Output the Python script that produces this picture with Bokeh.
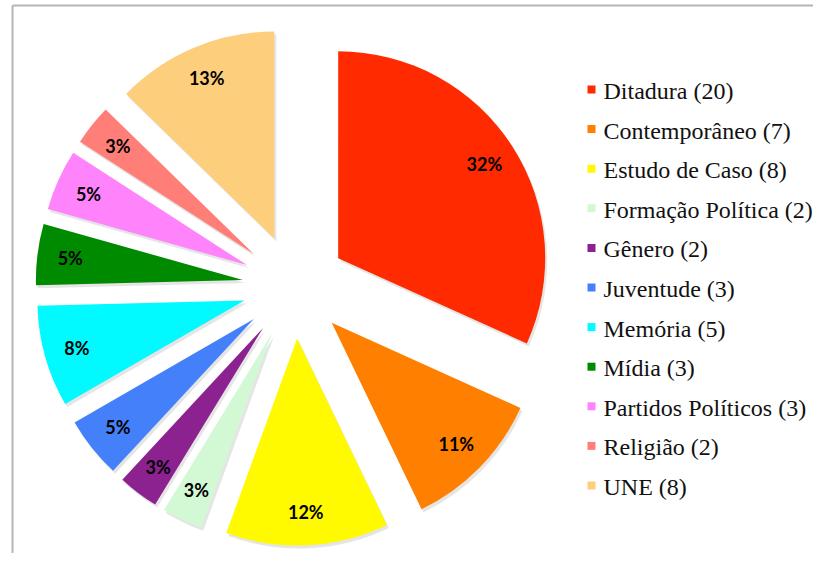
import numpy as np
from bokeh.plotting import figure
from bokeh.models import Range1d, ColumnDataSource
from bokeh.core.properties import value
from bokeh.embed import file_html
from bokeh.resources import INLINE

# ---- data ----
categories = ["Ditadura", "Contemporâneo", "Estudo de Caso", "Formação Política",
              "Gênero", "Juventude", "Memória", "Mídia", "Partidos Políticos",
              "Religião", "UNE"]
counts = [20, 7, 8, 2, 2, 3, 5, 3, 3, 2, 8]
pct_labels = ["32%", "11%", "12%", "3%", "3%", "5%", "8%", "5%", "5%", "3%", "13%"]
colors = ["#FF2A00", "#FF7F00", "#FFFA00", "#D2F9D4", "#8C2190", "#4480FA",
          "#00FAFF", "#008A00", "#FF83FA", "#FF7F78", "#FDCE7C"]

# ---- geometry (page pixels -> data, y up) ----
W, H = 813, 553
CX, CY = 294, H - 286
R = 207
EXPLODE = 52
LABEL_R = 174

total = float(sum(counts))
frac = np.array(counts) / total
end_cw = np.cumsum(frac) * 2 * np.pi
start_cw = end_cw - frac * 2 * np.pi
mid_cw = (start_cw + end_cw) / 2

xs = CX + EXPLODE * np.sin(mid_cw)
ys = CY + EXPLODE * np.cos(mid_cw)
start_a = np.pi / 2 - end_cw
end_a = np.pi / 2 - start_cw

src = ColumnDataSource(dict(x=xs, y=ys, sa=start_a, ea=end_a, color=colors,
                            sx=xs + 2, sy=ys - 3,
                            lx=xs + LABEL_R * np.sin(mid_cw),
                            ly=ys + LABEL_R * np.cos(mid_cw),
                            lab=pct_labels))

p = figure(width=W, height=H, x_range=Range1d(0, W), y_range=Range1d(0, H),
           output_backend="svg", toolbar_location=None,
           x_axis_type=None, y_axis_type=None, min_border=0)
p.outline_line_color = None
p.grid.visible = False
p.background_fill_color = "white"

# frame lines
p.line([12, 12], [0, H - 5], line_color="#b5b5b5", line_width=2)
p.line([12, W], [H - 5, H - 5], line_color="#b5b5b5", line_width=2)

# shadow
p.wedge(x="sx", y="sy", radius=R, start_angle="sa", end_angle="ea", source=src,
        fill_color="#888888", fill_alpha=0.22, line_color=None)
p.wedge(x="x", y="y", radius=R, start_angle="sa", end_angle="ea", source=src,
        fill_color="color", line_color=None)

p.text(x="lx", y="ly", text="lab", source=src, text_font=value("Lato"),
       text_font_style="bold", text_font_size="18px", text_color="#000000",
       text_align="center", text_baseline="middle")

# legend
row0 = H - 89
step = 39.6
ly = [row0 - i * step for i in range(len(categories))]
leg_text = [f"{c} ({n})" for c, n in zip(categories, counts)]
lsrc = ColumnDataSource(dict(x=[591] * len(categories), y=ly, color=colors,
                             tx=[603] * len(categories), ty=[v - 1.5 for v in ly],
                             t=leg_text))
p.rect(x="x", y="y", width=8, height=8, source=lsrc, fill_color="color", line_color=None)
p.text(x="tx", y="ty", text="t", source=lsrc,
       text_font=value("Times New Roman"),
       text_font_size="24px", text_color="#111111", text_align="left",
       text_baseline="middle")

open("out.html", "w").write(file_html(p, INLINE))
